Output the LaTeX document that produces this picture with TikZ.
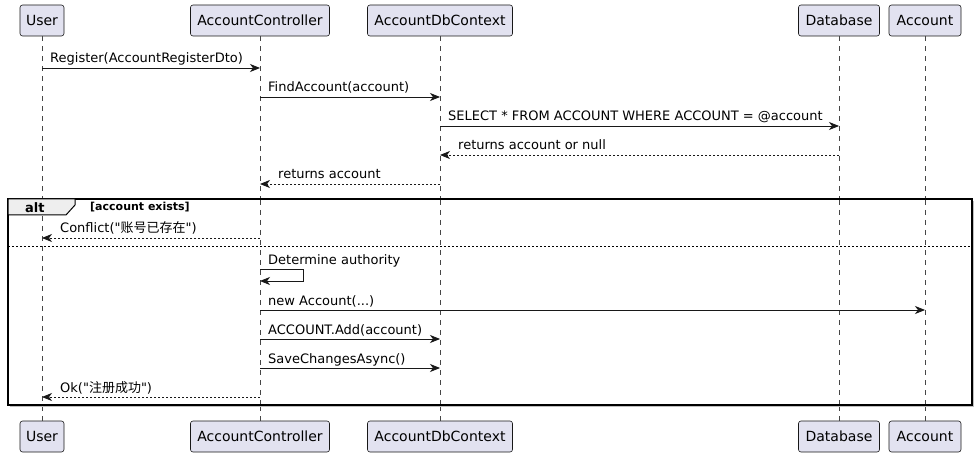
\documentclass[tikz,border=0pt]{standalone}
\usepackage{fontspec}
\newfontfamily\dv{DejaVu Sans}
\newfontfamily\cjk{Noto Sans CJK SC}
\usetikzlibrary{arrows.meta}
\definecolor{partfill}{HTML}{E2E2F0}
\definecolor{partline}{HTML}{181818}
\definecolor{tabfill}{HTML}{EEEEEE}
\begin{document}
\begin{tikzpicture}[x=1pt,y=-1pt,
 part/.style={draw=partline, fill=partfill, rounded corners=2.5pt, minimum height=31pt, inner sep=0pt, font=\dv\fontsize{14}{16}\selectfont, text=black, line width=0.6pt},
 life/.style={draw=partline!80, dash pattern=on 5pt off 5pt, line width=0.5pt},
 msg/.style={-{Stealth[length=10pt,width=8pt,inset=3pt]}, line width=0.8pt, draw=partline},
 ret/.style={msg, dash pattern=on 2pt off 2pt},
 lbl/.style={font=\dv\fontsize{13}{15}\selectfont, anchor=base west, inner sep=0pt, text=black},
 frm/.style={draw=black, line width=1.5pt},
]
\useasboundingbox (0,0) rectangle (977,457);
% participants top
\node[part, minimum width=44pt]  (userT) at (42,20.5)  {User};
\node[part, minimum width=139pt] (ctrlT) at (260,20.5) {AccountController};
\node[part, minimum width=145pt] (dbcT)  at (440,20.5) {AccountDbContext};
\node[part, minimum width=81pt]  (dbT)   at (839,20.5) {Database};
\node[part, minimum width=72pt]  (accT)  at (925,20.5) {Account};
% participants bottom
\node[part, minimum width=44pt]  (userB) at (42,436.5)  {User};
\node[part, minimum width=139pt] (ctrlB) at (260,436.5) {AccountController};
\node[part, minimum width=145pt] (dbcB)  at (440,436.5) {AccountDbContext};
\node[part, minimum width=81pt]  (dbB)   at (839,436.5) {Database};
\node[part, minimum width=72pt]  (accB)  at (925,436.5) {Account};
% lifelines
\draw[life] (userT.south) -- (userB.north);
\draw[life] (ctrlT.south) -- (ctrlB.north);
\draw[life] (dbcT.south) -- (dbcB.north);
\draw[life] (dbT.south) -- (dbB.north);
\draw[life] (accT.south) -- (accB.north);
% messages
\coordinate (m1s) at (42,68);   \coordinate (m1e) at (260,68);
\draw[msg] (m1s) -- (m1e);
\node[lbl] (l1) at (50,63) {Register(AccountRegisterDto)};
\coordinate (m2s) at (260,97);  \coordinate (m2e) at (440,97);
\draw[msg] (m2s) -- (m2e);
\node[lbl] (l2) at (268,92) {FindAccount(account)};
\coordinate (m3s) at (440,126); \coordinate (m3e) at (839,126);
\draw[msg] (m3s) -- (m3e);
\node[lbl] (l3) at (448,121) {SELECT * FROM ACCOUNT WHERE ACCOUNT = @account};
\coordinate (m4s) at (839,155); \coordinate (m4e) at (440,155);
\draw[ret] (m4s) -- (m4e);
\node[lbl] (l4) at (458,150) {returns account or null};
\coordinate (m5s) at (440,184); \coordinate (m5e) at (260,184);
\draw[ret] (m5s) -- (m5e);
\node[lbl] (l5) at (278,179) {returns account};
% alt frame
\fill[black!25] (10,201) rectangle (974,407);
\fill[white] (8,199) rectangle (972,405);
\draw[frm] (8,199) rectangle (972,405);
\draw[line width=1pt, fill=tabfill] (8,199) -- (75,199) -- (75,205) -- (66,215) -- (8,215) -- cycle;
\node[font=\dv\bfseries\fontsize{13}{15}\selectfont, anchor=base west, inner sep=0pt] (altl) at (25,212) {alt};
\node[font=\dv\bfseries\fontsize{11}{13}\selectfont, anchor=base west, inner sep=0pt] (guard) at (90,211) {[account exists]};
% lifelines inside frame
\draw[life] (42,216) -- (42,404);
\draw[life] (260,200) -- (260,404);
\draw[life] (440,200) -- (440,404);
\draw[life] (839,200) -- (839,404);
\draw[life] (925,200) -- (925,404);
\coordinate (m6s) at (260,238); \coordinate (m6e) at (42,238);
\draw[ret] (m6s) -- (m6e);
\node[lbl] (l6) at (60,233) {Conflict("{\cjk 账号已存在}")};
\draw[dash pattern=on 2pt off 2pt, line width=0.8pt] (8,246) -- (972,246);
\coordinate (m7s) at (260,269); \coordinate (m7a) at (303,269);
\coordinate (m7b) at (303,281); \coordinate (m7e) at (260,281);
\draw[msg] (m7s) -- (m7a) -- (m7b) -- (m7e);
\node[lbl] (l7) at (268,264) {Determine authority};
\coordinate (m8s) at (260,310); \coordinate (m8e) at (925,310);
\draw[msg] (m8s) -- (m8e);
\node[lbl] (l8) at (268,305) {new Account(...)};
\coordinate (m9s) at (260,339); \coordinate (m9e) at (440,339);
\draw[msg] (m9s) -- (m9e);
\node[lbl] (l9) at (268,334) {ACCOUNT.Add(account)};
\coordinate (m10s) at (260,368); \coordinate (m10e) at (440,368);
\draw[msg] (m10s) -- (m10e);
\node[lbl] (l10) at (268,363) {SaveChangesAsync()};
\coordinate (m11s) at (260,397); \coordinate (m11e) at (42,397);
\draw[ret] (m11s) -- (m11e);
\node[lbl] (l11) at (60,392) {Ok("{\cjk 注册成功}")};
\end{tikzpicture}
\end{document}
